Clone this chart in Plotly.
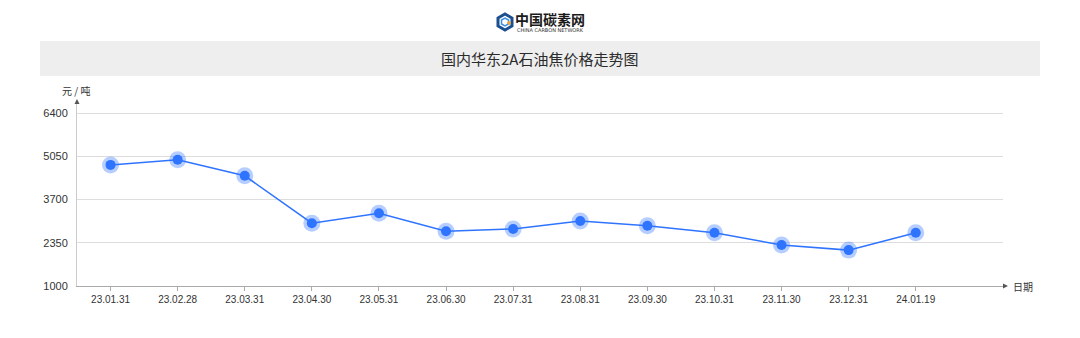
import plotly.graph_objects as go

# Monthly price of East China 2A petroleum coke (CNY / tonne)
dates = ["23.01.31", "23.02.28", "23.03.31", "23.04.30", "23.05.31", "23.06.30",
         "23.07.31", "23.08.31", "23.09.30", "23.10.31", "23.11.30", "23.12.31",
         "24.01.19"]
prices = [4780, 4940, 4440, 2960, 3270, 2710, 2780, 3030, 2880, 2660, 2280, 2120, 2660]
y_ticks = [1000, 2350, 3700, 5050, 6400]

W, H = 1080, 338
L, R, T, B = 77, 1003, 100, 286
PW, PH = R - L, B - T


def px(x):
    return (x - L) / PW


def py(y):
    return (B - y) / PH


BLUE = "#2f74ff"
FONT = "Noto Sans CJK SC, Noto Sans, sans-serif"

fig = go.Figure()

# soft halo behind each point
fig.add_trace(go.Scatter(
    x=dates, y=prices, mode="markers",
    marker=dict(size=17, color="rgba(47,116,255,0.35)", line=dict(width=0)),
    hoverinfo="skip", showlegend=False,
))
# price line with solid markers
fig.add_trace(go.Scatter(
    x=dates, y=prices, mode="lines+markers",
    line=dict(color=BLUE, width=1.5),
    marker=dict(size=10, color=BLUE, line=dict(width=0)),
    showlegend=False,
))

y_top = 1000 + (6400 - 1000) * PH / (B - 113)
x_right = -0.5 + (R - L) / 67.1

shapes = []
annotations = []

# header band behind the title
shapes.append(dict(type="rect", xref="paper", yref="paper",
                   x0=px(40), x1=px(1040), y0=py(76), y1=py(41),
                   fillcolor="#eeeeee", line=dict(width=0), layer="below"))
annotations.append(dict(xref="paper", yref="paper", x=px(539), y=py(59),
                        text="国内华东2A石油焦价格走势图", showarrow=False,
                        font=dict(family=FONT, size=15, color="#2b2b2b"),
                        xanchor="center", yanchor="middle"))

# logo mark
cx, cy = 505, 22
hexpts = [(cx - 7, cy - 4), (cx, cy - 8), (cx + 7, cy - 4), (cx + 7, cy + 4), (cx, cy + 8), (cx - 7, cy + 4)]
path = "M " + " L ".join(f"{px(a)},{py(b)}" for a, b in hexpts) + " Z"
shapes.append(dict(type="path", xref="paper", yref="paper", path=path,
                   fillcolor="#ffffff", line=dict(color="#1c4f8f", width=3)))
inner = [(cx - 3.5, cy - 2), (cx, cy - 4), (cx + 3.5, cy - 2), (cx + 3.5, cy + 2), (cx, cy + 4), (cx - 3.5, cy + 2)]
path2 = "M " + " L ".join(f"{px(a)},{py(b)}" for a, b in inner) + " Z"
shapes.append(dict(type="path", xref="paper", yref="paper", path=path2,
                   fillcolor="#ffffff", line=dict(color="#3a8fe0", width=1.5)))
shapes.append(dict(type="line", xref="paper", yref="paper",
                   x0=px(cx + 2), x1=px(cx + 6), y0=py(cy + 1), y1=py(cy + 1),
                   line=dict(color="#f0a030", width=1.5)))
shapes.append(dict(type="line", xref="paper", yref="paper",
                   x0=px(cx + 4), x1=px(cx + 4), y0=py(cy - 1), y1=py(cy + 3),
                   line=dict(color="#f0a030", width=1.5)))
annotations.append(dict(xref="paper", yref="paper", x=px(550), y=py(19),
                        text="<b>中国碳素网</b>", showarrow=False,
                        font=dict(family=FONT, size=14, color="#1a1a1a"),
                        xanchor="center", yanchor="middle"))
annotations.append(dict(xref="paper", yref="paper", x=px(550), y=py(30),
                        text="CHINA CARBON NETWORK", showarrow=False,
                        font=dict(family="DejaVu Sans, sans-serif", size=5, color="#333333"),
                        xanchor="center", yanchor="middle"))

# axis arrows
shapes.append(dict(type="path", xref="paper", yref="paper",
                   path=f"M {px(L-2.5)},{py(T+4)} L {px(L+2.5)},{py(T+4)} L {px(L)},{py(T-1)} Z",
                   fillcolor="#555555", line=dict(width=0)))
shapes.append(dict(type="path", xref="paper", yref="paper",
                   path=f"M {px(R)},{py(B-2.5)} L {px(R)},{py(B+2.5)} L {px(R+5)},{py(B)} Z",
                   fillcolor="#555555", line=dict(width=0)))

annotations.append(dict(xref="paper", yref="paper", x=px(76), y=py(90),
                        text="元 / 吨", showarrow=False,
                        font=dict(family=FONT, size=10, color="#333333"),
                        xanchor="center", yanchor="middle"))
annotations.append(dict(xref="paper", yref="paper", x=px(1011), y=py(286),
                        text="日期", showarrow=False,
                        font=dict(family=FONT, size=10, color="#333333"),
                        xanchor="left", yanchor="middle"))

fig.update_layout(
    width=W, height=H,
    margin=dict(l=L, r=W - R, t=T, b=H - B, pad=0),
    paper_bgcolor="#ffffff", plot_bgcolor="#ffffff",
    font=dict(family=FONT, color="#333333"),
    shapes=shapes, annotations=annotations,
    xaxis=dict(
        type="category", range=[-0.5, x_right],
        showgrid=False, zeroline=False,
        showline=True, linecolor="#aaaaaa", linewidth=1,
        ticks="outside", ticklen=4, tickcolor="#aaaaaa",
        tickfont=dict(family="Liberation Sans, Arial, sans-serif", size=10, color="#333333"),
        fixedrange=True,
    ),
    yaxis=dict(
        range=[1000, y_top], tickvals=y_ticks,
        ticktext=[str(v) for v in y_ticks],
        showgrid=True, gridcolor="#dddddd", gridwidth=1,
        zeroline=False, showline=True, linecolor="#cccccc", linewidth=1,
        ticks="", ticklabelstandoff=6,
        tickfont=dict(family="Liberation Sans, Arial, sans-serif", size=11, color="#333333"),
        fixedrange=True,
    ),
)

fig.write_html("out.html")
